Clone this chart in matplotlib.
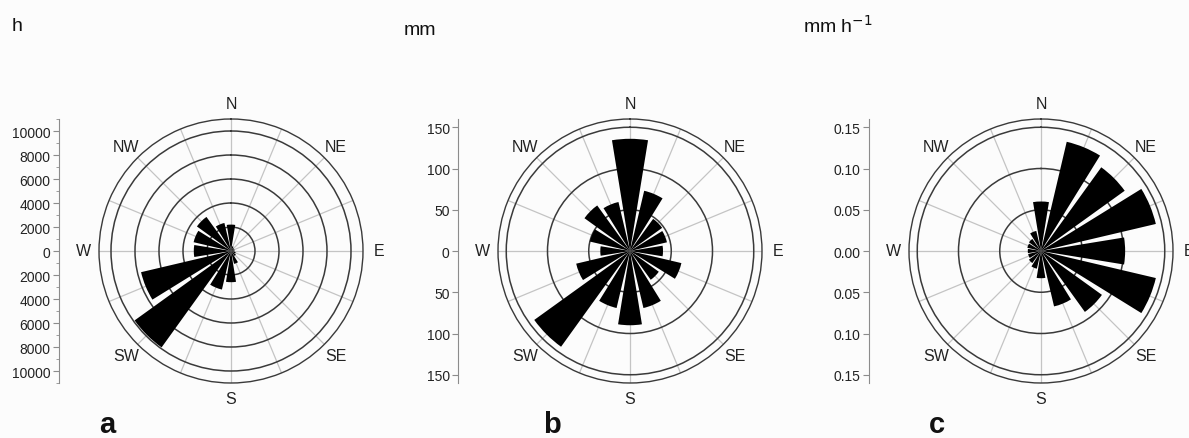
import numpy as np
import matplotlib.pyplot as plt

plt.rcParams['font.family'] = ['Liberation Sans', 'DejaVu Sans']

W, H = 1189, 439

# 16 wind sectors, clockwise from N
sectors = ['N', 'NNE', 'NE', 'ENE', 'E', 'ESE', 'SE', 'SSE',
           'S', 'SSW', 'SW', 'WSW', 'W', 'WNW', 'NW', 'NNW']
sector_deg = np.arange(16) * 22.5

# a: duration (h), b: precipitation (mm), c: intensity (mm h-1)
hours = [2200, 400, 300, 300, 300, 400, 500, 1100,
         2600, 3300, 9900, 7700, 3100, 3200, 3500, 2400]
precip = [136, 75, 48, 46, 40, 64, 43, 71,
          90, 71, 143, 67, 36, 50, 68, 61]
intensity = [0.060, 0.136, 0.125, 0.143, 0.102, 0.143, 0.091, 0.069,
             0.033, 0.022, 0.018, 0.016, 0.016, 0.017, 0.018, 0.025]

compass = ['N', 'NE', 'E', 'SE', 'S', 'SW', 'W', 'NW']
compass_deg = [0, 45, 90, 135, 180, 225, 270, 315]

rings_a = [2000, 4000, 6000, 8000, 10000]
rings_b = [50, 100, 150]
rings_c = [0.05, 0.10, 0.15]

units = ['h', 'mm', 'mm h$^{-1}$']
letters = ['a', 'b', 'c']

bg = '#fcfcfc'
fig = plt.figure(figsize=(W / 100, H / 100), dpi=100, facecolor=bg)

R = 132  # px radius of the rose
cy = 252

panels = [
    dict(vals=hours, rmax=11000, rings=rings_a, step=2000, minor=1000,
         fmt='{:.0f}', cx=231, axx=59, unit_xy=(12, 31), letter_x=107),
    dict(vals=precip, rmax=160, rings=rings_b, step=50, minor=None,
         fmt='{:.0f}', cx=630, axx=458, unit_xy=(404, 35), letter_x=552),
    dict(vals=intensity, rmax=0.16, rings=rings_c, step=0.05, minor=None,
         fmt='{:.2f}', cx=1041, axx=869, unit_xy=(803, 33), letter_x=937),
]

for i, p in enumerate(panels):
    rmax = p['rmax']
    rect = [(p['cx'] - R) / W, (H - cy - R) / H, 2 * R / W, 2 * R / H]
    ax = fig.add_axes(rect, projection='polar')
    ax.set_facecolor(bg)
    ax.set_theta_zero_location('N')
    ax.set_theta_direction(-1)
    ax.set_axisbelow(True)

    ax.bar(np.deg2rad(sector_deg), p['vals'], width=np.deg2rad(18.5),
           color='black', edgecolor='none', zorder=3)

    ax.set_ylim(0, rmax)
    ax.set_thetagrids(sector_deg, labels=[''] * 16)
    ax.set_rgrids(p['rings'], labels=[''] * len(p['rings']))
    ax.xaxis.grid(True, color='#c4c4c4', lw=0.9)
    ax.yaxis.grid(True, color='#3a3a3a', lw=1.1)
    ax.spines['polar'].set_color('#3a3a3a')
    ax.spines['polar'].set_linewidth(1.0)
    ax.tick_params(axis='x', length=4, width=0.9, colors='#b0b0b0', pad=0)

    for lab, d in zip(compass, compass_deg):
        ax.text(np.deg2rad(d), rmax * 1.12, lab, ha='center', va='center',
                fontsize=11.5, color='#222222', clip_on=False)

    # mirrored linear scale at the left
    lax = fig.add_axes([p['axx'] / W, rect[1], 0.0001, rect[3]])
    lax.set_facecolor('none')
    for s in ['top', 'right', 'bottom']:
        lax.spines[s].set_visible(False)
    lax.spines['left'].set_color('#8c8c8c')
    lax.set_xticks([])
    lax.set_ylim(-rmax, rmax)
    n = int(round(p['rings'][-1] / p['step']))
    ticks = np.arange(-n, n + 1) * p['step']
    lax.set_yticks(ticks)
    lax.set_yticklabels([p['fmt'].format(abs(t)) for t in ticks])
    if p['minor']:
        m = int(round(rmax / p['minor']))
        lax.set_yticks(np.arange(-m, m + 1) * p['minor'], minor=True)
        lax.tick_params(axis='y', which='minor', length=2, color='#8c8c8c')
    lax.tick_params(axis='y', which='major', length=4, color='#8c8c8c',
                    labelsize=10, labelcolor='#222222', pad=2)

    ux, uy = p['unit_xy']
    fig.text(ux / W, 1 - uy / H, units[i], fontsize=14, color='#111111',
             ha='left', va='baseline')
    fig.text(p['letter_x'] / W, 1 - 433 / H, letters[i], fontsize=21,
             fontweight='bold', color='#111111', ha='center', va='baseline')

plt.savefig('out.png', dpi=100, facecolor=bg)
